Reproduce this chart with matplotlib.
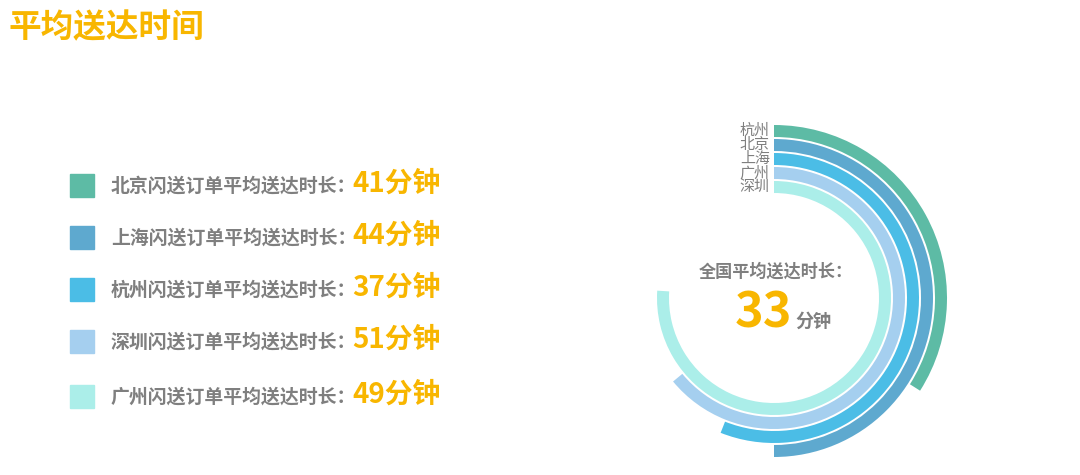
import numpy as np
import matplotlib
matplotlib.use("Agg")
import matplotlib.pyplot as plt

plt.rcParams['font.family'] = ['Noto Sans CJK SC', 'DejaVu Sans']

# legend rows (top to bottom)
cities = ['北京', '上海', '杭州', '深圳', '广州']
minutes = [41, 44, 37, 51, 49]
city_colors = ['#5dbba5', '#5ea9cf', '#4bbde6', '#a5cfef', '#abeee9']

# radial rings (outer to inner), share of a full turn in percent
ring_labels = ['杭州', '北京', '上海', '广州', '深圳']
ring_pct = [34, 50, 56, 64, 76]
ring_colors = ['#5dbba5', '#5ea9cf', '#4bbde6', '#a5cfef', '#abeee9']

national_avg = 33

orange = '#f8b600'
grey = '#7f7f7f'

W, H = 1080, 475
fig = plt.figure(figsize=(W / 100, H / 100), dpi=100)


def fx(px):
    return px / W


def fy(py):
    return 1 - py / H


# title
fig.text(fx(8), fy(28), '平均送达时间', color=orange, fontsize=23.5,
         fontweight='bold', va='center', ha='left')

# legend block
row_y = [185, 237, 289, 341, 396]
for city, m, c, y in zip(cities, minutes, city_colors, row_y):
    fig.patches.append(plt.Rectangle((fx(70), fy(y + 11.5)), fx(24), 23 / H,
                                     transform=fig.transFigure, color=c))
    fig.text(fx(111), fy(y + 1), city + '闪送订单平均送达时长：', color=grey,
             fontsize=13.6, fontweight='bold', va='center', ha='left')
    fig.text(fx(352), fy(y - 1), f'{m}分钟', color=orange, fontsize=20,
             fontweight='bold', va='center', ha='left')

# radial bar chart
cx, cy, R = 774, 298, 180
ax = fig.add_axes([fx(cx - R), fy(cy + R), 2 * R / W, 2 * R / H], projection='polar')
ax.set_theta_zero_location('N')
ax.set_theta_direction(-1)
ax.set_ylim(0, R)
ax.axis('off')

thick, pitch, outer = 12, 14, 173
for i, (lab, p, c) in enumerate(zip(ring_labels, ring_pct, ring_colors)):
    r_out = outer - i * pitch
    ax.bar(0, thick, width=np.deg2rad(p / 100 * 360), bottom=r_out - thick,
           align='edge', color=c, edgecolor='none')
    ax.annotate(lab, xy=(0, r_out - thick / 2), xytext=(-3, 0),
                textcoords='offset points', ha='right', va='center',
                color=grey, fontsize=10.8)

fig.text(fx(776), fy(272), '全国平均送达时长：', color=grey, fontsize=12.3,
         fontweight='bold', va='center', ha='center')
fig.text(fx(792), fy(327), str(national_avg), color=orange, fontsize=35,
         fontweight='bold', va='baseline', ha='right')
fig.text(fx(795), fy(327), '分钟', color=grey, fontsize=13,
         fontweight='bold', va='baseline', ha='left')

fig.savefig('out.png', dpi=100)
